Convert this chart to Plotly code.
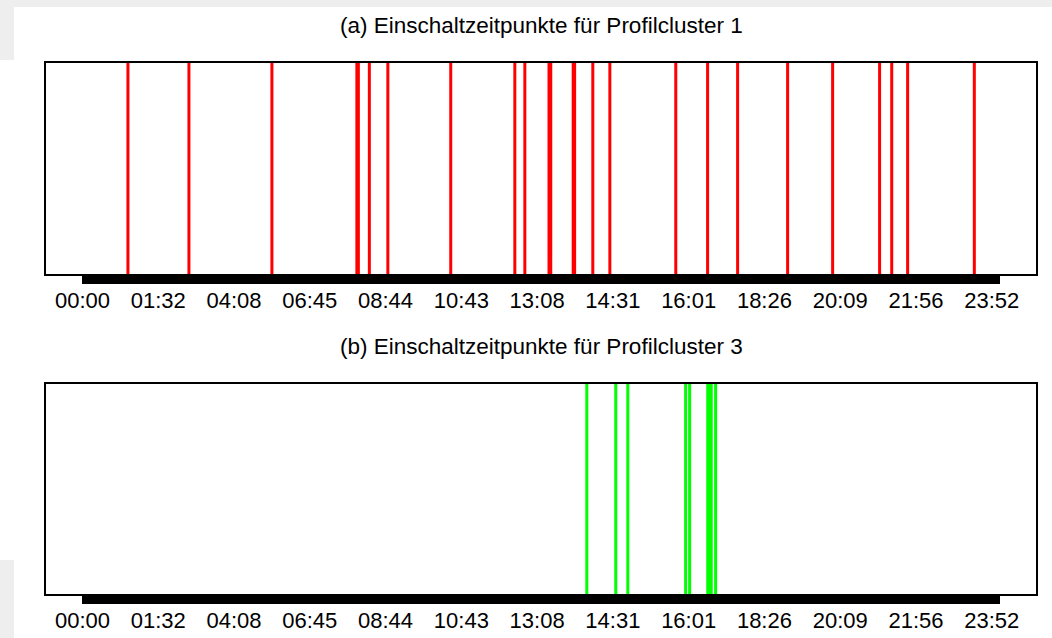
import plotly.graph_objects as go

# --- data (positions on the observation-index scale) ---
tick_labels = ["00:00", "01:32", "04:08", "06:45", "08:44", "10:43", "13:08",
               "14:31", "16:01", "18:26", "20:09", "21:56", "23:52"]
label_step = 100
n_obs = 1211  # observation indices 0..1210

events_cluster1 = [60, 140.5, 250, 362.1, 364.1, 378.6, 403, 486, 570.6, 583.8,
                   615.7, 618, 647.6, 649.5, 673.5, 696, 783, 825, 864.6, 930.6,
                   990, 1052, 1068, 1089, 1177]
events_cluster3 = [665.6, 703.8, 719.7, 796, 801.3, 825.2, 827.2, 829.8, 835.6]

titles = ["(a) Einschaltzeitpunkte für Profilcluster 1",
          "(b) Einschaltzeitpunkte für Profilcluster 3"]
colors = ["#FF0000", "#00FF00"]

W, H = 1052, 638
FONT = "Liberation Sans, Arial, sans-serif"

fig = go.Figure()


def vlines(xs):
    X, Y = [], []
    for x in xs:
        X += [x, x, None]
        Y += [0, 1, None]
    return X, Y


for i, ev in enumerate([events_cluster1, events_cluster3]):
    X, Y = vlines(ev)
    fig.add_trace(go.Scatter(x=X, y=Y, mode="lines",
                             line=dict(color=colors[i], width=3),
                             xaxis="x" if i == 0 else "x2",
                             yaxis="y" if i == 0 else "y2",
                             showlegend=False, hoverinfo="skip"))

tickvals = list(range(n_obs))
ticktext = [tick_labels[v // label_step] if v % label_step == 0 and v // label_step < len(tick_labels) else ""
            for v in tickvals]
span = n_obs - 1
xr = [-0.04 * span, span + 0.04 * span]

xdom = [45.8 / W, 1036 / W]
ydoms = [[1 - 274 / H, 1 - 63 / H], [1 - 594 / H, 1 - 383.5 / H]]

for i in range(2):
    sfx = "" if i == 0 else "2"
    fig.update_layout(**{
        "xaxis" + sfx: dict(domain=xdom, range=xr, tickmode="array",
                            tickvals=tickvals, ticktext=ticktext,
                            ticks="outside", ticklen=8, tickwidth=1, tickcolor="black",
                            showline=True, linecolor="black", linewidth=2, mirror=True,
                            showgrid=False, zeroline=False,
                            anchor="y" + sfx,
                            tickfont=dict(family=FONT, size=22, color="#000000"),
                            ticklabelstandoff=-2),
        "yaxis" + sfx: dict(domain=ydoms[i], range=[0, 1], showticklabels=False,
                            ticks="", showline=True, linecolor="black", linewidth=2,
                            mirror=True, showgrid=False, zeroline=False,
                            anchor="x" + sfx),
    })

title_y = [1 - 25 / H, 1 - 346 / H]
for i in range(2):
    fig.add_annotation(text=titles[i], x=541 / W, y=title_y[i], xref="paper", yref="paper",
                       xanchor="center", yanchor="middle", showarrow=False,
                       font=dict(family=FONT, size=22.5, color="#000000"))

# faint background watermark bands of the source page
fig.add_shape(type="rect", xref="paper", yref="paper", x0=0, x1=1, y0=1 - 7 / H, y1=1,
              fillcolor="#eeeeee", line_width=0, layer="below")
fig.add_shape(type="rect", xref="paper", yref="paper", x0=0, x1=14 / W, y0=0, y1=78 / H,
              fillcolor="#eeeeee", line_width=0, layer="below")
fig.add_shape(type="rect", xref="paper", yref="paper", x0=0, x1=14 / W, y0=1 - 60 / H, y1=1,
              fillcolor="#eeeeee", line_width=0, layer="below")

fig.update_layout(width=W, height=H, margin=dict(l=0, r=0, t=0, b=0),
                  paper_bgcolor="white", plot_bgcolor="white", showlegend=False)

fig.write_html("out.html", config={"displayModeBar": False},
               post_script="document.body.style.margin='0';document.body.style.overflow='hidden';")
